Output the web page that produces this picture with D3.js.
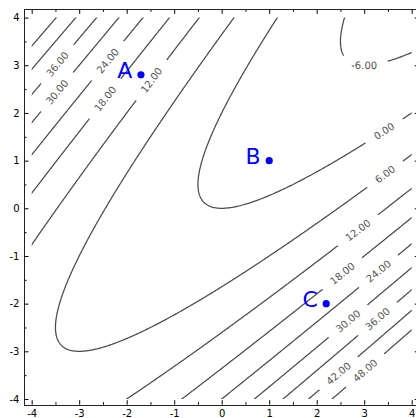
<!DOCTYPE html>
<html><head><meta charset="utf-8">
<script src="https://cdn.jsdelivr.net/npm/d3@7"></script>
<style>body{margin:0;background:#fff}svg{display:block}</style>
</head><body>
<svg id="chart" width="416" height="418"></svg>
<script>
// ---- data ----
const levels = [-6, 0, 6, 12, 18, 24, 30, 36, 42, 48];
const pointNames = ["A", "B", "C"];
const pointX = [-1.7, 1.0, 2.2];
const pointY = [2.8, 1.0, -2.0];
const labelLevels = [36, 30, 24, 18, 12, -6, 0, 6, 12, 18, 24, 30, 36, 42, 48];
const labelX = [-3.47, -3.47, -2.42, -2.46, -1.47, 3.0, 3.40, 3.44, 2.84, 2.53, 3.30, 2.63, 3.23, 2.42, 2.95];
const labelY = [3.04, 2.44, 3.11, 2.30, 2.69, 3.0, 1.64, 0.70, -0.42, -1.37, -1.30, -2.34, -2.27, -3.43, -3.32];
const majorTicks = [-4, -3, -2, -1, 0, 1, 2, 3, 4];
const minorTicks = [-3.5, -2.5, -1.5, -0.5, 0.5, 1.5, 2.5, 3.5];
// surface sampled on the grid: f(x, y) = (x - y)^2 - 2y
const surface = (x, y) => (x - y) * (x - y) - 2 * y;

// ---- layout ----
const svg = d3.select("#chart");
const x = d3.scaleLinear().domain([-4, 4]).range([31.7, 411.7]);
const y = d3.scaleLinear().domain([-4, 4]).range([399.0, 17.6]);
const frame = {left: 24, top: 9.3, right: 419.3, bottom: 404.7};
const lineColor = "#4a4a4a";
const labelColor = "#555";
const font = "DejaVu Sans, Bitstream Vera Sans, sans-serif";

// ---- grid + contours ----
const g0 = -4.1, step = 0.02;
const n = Math.round((4.1 - g0) / step) + 1;
const values = new Float64Array(n * n);
for (let j = 0; j < n; j++) for (let i = 0; i < n; i++)
  values[i + j * n] = surface(g0 + i * step, g0 + j * step);
const contours = d3.contours().size([n, n]).thresholds(levels)(values);
const gx = c => x(g0 + (c - 0.5) * step);
const gy = c => y(g0 + (c - 0.5) * step);
const ringsByLevel = new Map();
contours.forEach(c => {
  const rings = [];
  c.coordinates.forEach(poly => poly.forEach(ring => rings.push(ring.map(p => [gx(p[0]), gy(p[1])]))));
  ringsByLevel.set(c.value, rings);
});

const defs = svg.append("defs");
defs.append("clipPath").attr("id", "plotclip").append("rect")
  .attr("x", x(-4)).attr("y", y(4)).attr("width", x(4) - x(-4)).attr("height", y(-4) - y(4));
const mask = defs.append("mask").attr("id", "gapmask").attr("maskUnits", "userSpaceOnUse")
  .attr("x", 0).attr("y", 0).attr("width", 416).attr("height", 418);
mask.append("rect").attr("width", 416).attr("height", 418).attr("fill", "white");

const lineG = svg.append("g").attr("clip-path", "url(#plotclip)")
  .append("g").attr("mask", "url(#gapmask)");
levels.forEach(lv => {
  const rings = ringsByLevel.get(lv) || [];
  rings.forEach(r => {
    lineG.append("path")
      .attr("d", "M" + r.map(p => p[0].toFixed(2) + "," + p[1].toFixed(2)).join("L") + "Z")
      .attr("fill", "none").attr("stroke", lineColor).attr("stroke-width", 1.25);
  });
});

// ---- contour labels ----
const labelG = svg.append("g");
labelLevels.forEach((lv, k) => {
  const rings = ringsByLevel.get(lv) || [];
  const px = x(labelX[k]), py = y(labelY[k]);
  let best = null;
  rings.forEach(r => r.forEach((p, i) => {
    const d = (p[0] - px) ** 2 + (p[1] - py) ** 2;
    if (!best || d < best.d) best = {d, r, i};
  }));
  if (!best) return;
  const r = best.r, m = r.length, i = best.i;
  const at = j => r[((j % m) + m) % m];
  const a = at(i - 4), b = at(i + 4);
  let ang = Math.atan2(b[1] - a[1], b[0] - a[0]) * 180 / Math.PI;
  if (ang > 90) ang -= 180;
  if (ang < -90) ang += 180;
  const c = r[i];
  const t = labelG.append("text")
    .attr("transform", `translate(${c[0]},${c[1]}) rotate(${ang})`)
    .attr("text-anchor", "middle").attr("dy", "0.36em")
    .attr("font-family", font).attr("font-size", 10).attr("fill", labelColor)
    .text(lv.toFixed(2));
  const half = t.node().getComputedTextLength() / 2 + 11;
  const walk = dir => {
    const pts = [];
    let acc = 0, j = i, prev = at(i);
    for (let s = 0; s < m; s++) {
      j += dir;
      const q = at(j);
      const seg = Math.hypot(q[0] - prev[0], q[1] - prev[1]);
      if (acc + seg >= half) {
        const f = (half - acc) / (seg || 1);
        pts.push([prev[0] + (q[0] - prev[0]) * f, prev[1] + (q[1] - prev[1]) * f]);
        break;
      }
      acc += seg; pts.push(q); prev = q;
    }
    return pts;
  };
  const poly = walk(-1).reverse().concat([c], walk(1));
  mask.append("path").attr("d", "M" + poly.map(p => p.join(",")).join("L"))
    .attr("fill", "none").attr("stroke", "black").attr("stroke-width", 7).attr("stroke-linecap", "butt");
});

// ---- axes ----
function styleAxis(g) {
  g.select(".domain").remove();
  g.selectAll("line").attr("stroke", "#000");
  g.selectAll("text").attr("font-family", font).attr("font-size", 10).attr("fill", "#000");
  g.attr("font-family", font);
}
const fmt = d => String(d);
svg.append("g").attr("transform", `translate(0,${frame.bottom})`)
  .call(d3.axisBottom(x).tickValues(majorTicks).tickSize(-4.5).tickPadding(5).tickFormat(fmt)).call(styleAxis);
svg.append("g").attr("transform", `translate(0,${frame.bottom})`)
  .call(d3.axisBottom(x).tickValues(minorTicks).tickSize(-2.5).tickFormat("")).call(styleAxis);
svg.append("g").attr("transform", `translate(0,${frame.top})`)
  .call(d3.axisTop(x).tickValues(majorTicks).tickSize(-4.5).tickFormat("")).call(styleAxis);
svg.append("g").attr("transform", `translate(0,${frame.top})`)
  .call(d3.axisTop(x).tickValues(minorTicks).tickSize(-2.5).tickFormat("")).call(styleAxis);
svg.append("g").attr("transform", `translate(${frame.left},0)`)
  .call(d3.axisLeft(y).tickValues(majorTicks).tickSize(-4.5).tickPadding(4.5).tickFormat(fmt)).call(styleAxis);
svg.append("g").attr("transform", `translate(${frame.left},0)`)
  .call(d3.axisLeft(y).tickValues(minorTicks).tickSize(-2.5).tickFormat("")).call(styleAxis);
svg.append("g").attr("transform", `translate(${frame.right},0)`)
  .call(d3.axisRight(y).tickValues(majorTicks).tickSize(-4.5).tickFormat("")).call(styleAxis);
svg.append("g").attr("transform", `translate(${frame.right},0)`)
  .call(d3.axisRight(y).tickValues(minorTicks).tickSize(-2.5).tickFormat("")).call(styleAxis);

svg.append("rect")
  .attr("x", frame.left + 0.5).attr("y", Math.round(frame.top) + 0.5)
  .attr("width", frame.right - frame.left).attr("height", Math.round(frame.bottom) - Math.round(frame.top))
  .attr("fill", "none").attr("stroke", "#222").attr("stroke-width", 1);

// ---- points ----
const pts = pointNames.map((name, i) => ({name, px: pointX[i], py: pointY[i]}));
svg.append("g").selectAll("circle").data(pts).join("circle")
  .attr("cx", d => x(d.px)).attr("cy", d => y(d.py)).attr("r", 3.6).attr("fill", "#0000ff");
svg.append("g").selectAll("text").data(pts).join("text")
  .attr("x", d => x(d.px - 0.5)).attr("y", d => y(d.py) + 3)
  .attr("font-family", font).attr("font-size", 22).attr("fill", "#0000ff")
  .text(d => d.name);
</script>
</body></html>
